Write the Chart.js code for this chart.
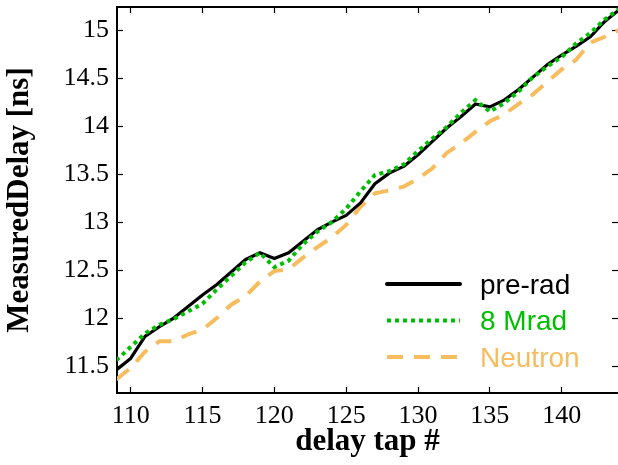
<!DOCTYPE html>
<html><head><meta charset="utf-8">
<script src="https://cdn.jsdelivr.net/npm/chart.js@4.4.0/dist/chart.umd.min.js"></script>
<style>html,body{margin:0;padding:0;background:#fff}#wrap{width:618px;height:465px}</style>
</head><body><div id="wrap"><canvas id="c" width="618" height="465"></canvas></div>
<script>
const taps = [109,110,111,112,113,114,115,116,117,118,119,120,121,122,123,124,125,126,127,128,129,130,131,132,133,134,135,136,137,138,139,140,141,142,143,144];
const preRad = [11.46,11.58,11.81,11.91,12.00,12.12,12.24,12.35,12.48,12.61,12.68,12.62,12.68,12.80,12.92,13.00,13.07,13.20,13.40,13.51,13.58,13.70,13.84,13.98,14.10,14.23,14.20,14.27,14.38,14.51,14.64,14.74,14.83,14.93,15.09,15.21];
const mrad8 = [11.56,11.70,11.84,11.93,11.99,12.07,12.15,12.30,12.44,12.58,12.68,12.53,12.60,12.77,12.90,13.00,13.14,13.32,13.49,13.53,13.60,13.74,13.87,13.99,14.14,14.27,14.15,14.24,14.36,14.51,14.62,14.72,14.86,14.97,15.11,15.22];
const neutron = [11.36,11.48,11.65,11.76,11.76,11.83,11.88,12.00,12.14,12.23,12.38,12.49,12.51,12.63,12.74,12.84,12.97,13.16,13.30,13.33,13.37,13.45,13.56,13.72,13.82,13.94,14.05,14.12,14.23,14.33,14.46,14.59,14.69,14.87,14.93,15.00];
const seriesLabels = ['pre-rad','8 Mrad','Neutron'];
const xTicks = [110,115,120,125,130,135,140];
const yTicks = [11.5,12,12.5,13,13.5,14,14.5,15];
const xTitle = 'delay tap #';
const yTitle = 'MeasuredDelay [ns]';

const pts = arr => taps.map((t,i)=>({x:t,y:arr[i]}));
const serif = 'Liberation Serif, Times New Roman, serif';

const legendPlugin = {
  id:'inLegend',
  afterDraw(chart){
    const ctx = chart.ctx, ca = chart.chartArea;
    const x0 = ca.left + 270, x1 = ca.left + 343, tx = ca.left + 363;
    const y0 = 284, dy = 36.5;
    chart.data.datasets.forEach((ds,i)=>{
      const y = y0 + i*dy;
      ctx.save();
      ctx.strokeStyle = ds.borderColor;
      ctx.lineWidth = ds.legendWidth || ds.borderWidth;
      ctx.lineCap = ds.borderDash && ds.borderDash.length ? 'butt' : 'round';
      ctx.setLineDash(ds.borderDash || []);
      ctx.beginPath(); ctx.moveTo(x0,y); ctx.lineTo(x1,y); ctx.stroke();
      ctx.setLineDash([]);
      ctx.fillStyle = ds.borderColor;
      ctx.font = '28px "Liberation Sans", Arial, sans-serif';
      ctx.textBaseline = 'middle';
      ctx.textAlign = 'left';
      ctx.fillText(ds.label, tx, y + 2);
      ctx.restore();
    });
  }
};

const setTicks = list => scale => { scale.ticks = list.map(v=>({value:v})); };
const gridIn = {drawOnChartArea:false, drawTicks:true, tickLength:-6, color:'#000', tickWidth:1.2};
const noPad = s => { s.paddingTop = 0; s.paddingBottom = 0; s.paddingLeft = 0; s.paddingRight = 0; };

new Chart(document.getElementById('c'), {
  type:'line',
  data:{ datasets:[
    {label:seriesLabels[0], data:pts(preRad), borderColor:'#000000', borderWidth:3.2, legendWidth:4, pointRadius:0, tension:0, clip:0, order:1, borderJoinStyle:'round'},
    {label:seriesLabels[1], data:pts(mrad8), borderColor:'rgb(0,190,0)', borderWidth:4, borderDash:[4,4], pointRadius:0, tension:0, clip:0, order:0, borderCapStyle:'butt'},
    {label:seriesLabels[2], data:pts(neutron), borderColor:'rgb(247,188,94)', borderWidth:4, borderDash:[16,11], pointRadius:0, tension:0, clip:0, order:2, borderCapStyle:'butt'}
  ]},
  options:{
    responsive:false, devicePixelRatio:1, animation:false,
    layout:{padding:0},
    plugins:{legend:{display:false}, tooltip:{enabled:false}},
    scales:{
      x:{type:'linear', position:'bottom', min:109.05, max:143.92,
         afterBuildTicks:setTicks(xTicks),
         afterFit:s=>{s.height=72; noPad(s);},
         ticks:{color:'#000', font:{family:serif, size:26}, padding:14, maxRotation:0, autoSkip:false, callback:v=>String(v)},
         grid:gridIn, border:{color:'#000', width:2},
         title:{display:true, text:xTitle, color:'#000', font:{family:serif, size:31, weight:'bold'}, padding:4}},
      xTop:{type:'linear', position:'top', min:109.05, max:143.92,
         afterBuildTicks:setTicks(xTicks),
         afterFit:s=>{s.height=7; noPad(s);},
         ticks:{display:false}, grid:gridIn, border:{color:'#000', width:2}},
      y:{type:'linear', position:'left', min:11.22, max:15.24,
         afterBuildTicks:setTicks(yTicks),
         afterFit:s=>{s.width=117; noPad(s);},
         ticks:{color:'#000', font:{family:serif, size:26}, padding:14, autoSkip:false, callback:v=>String(v)},
         grid:gridIn, border:{color:'#000', width:2},
         title:{display:true, text:yTitle, color:'#000', font:{family:serif, size:31, weight:'bold'}, padding:1}},
      yRight:{type:'linear', position:'right', min:11.22, max:15.24,
         afterBuildTicks:setTicks(yTicks),
         afterFit:s=>{s.width=0; noPad(s);},
         ticks:{display:false}, grid:gridIn, border:{display:false}}
    }
  },
  plugins:[legendPlugin]
});
</script></body></html>
